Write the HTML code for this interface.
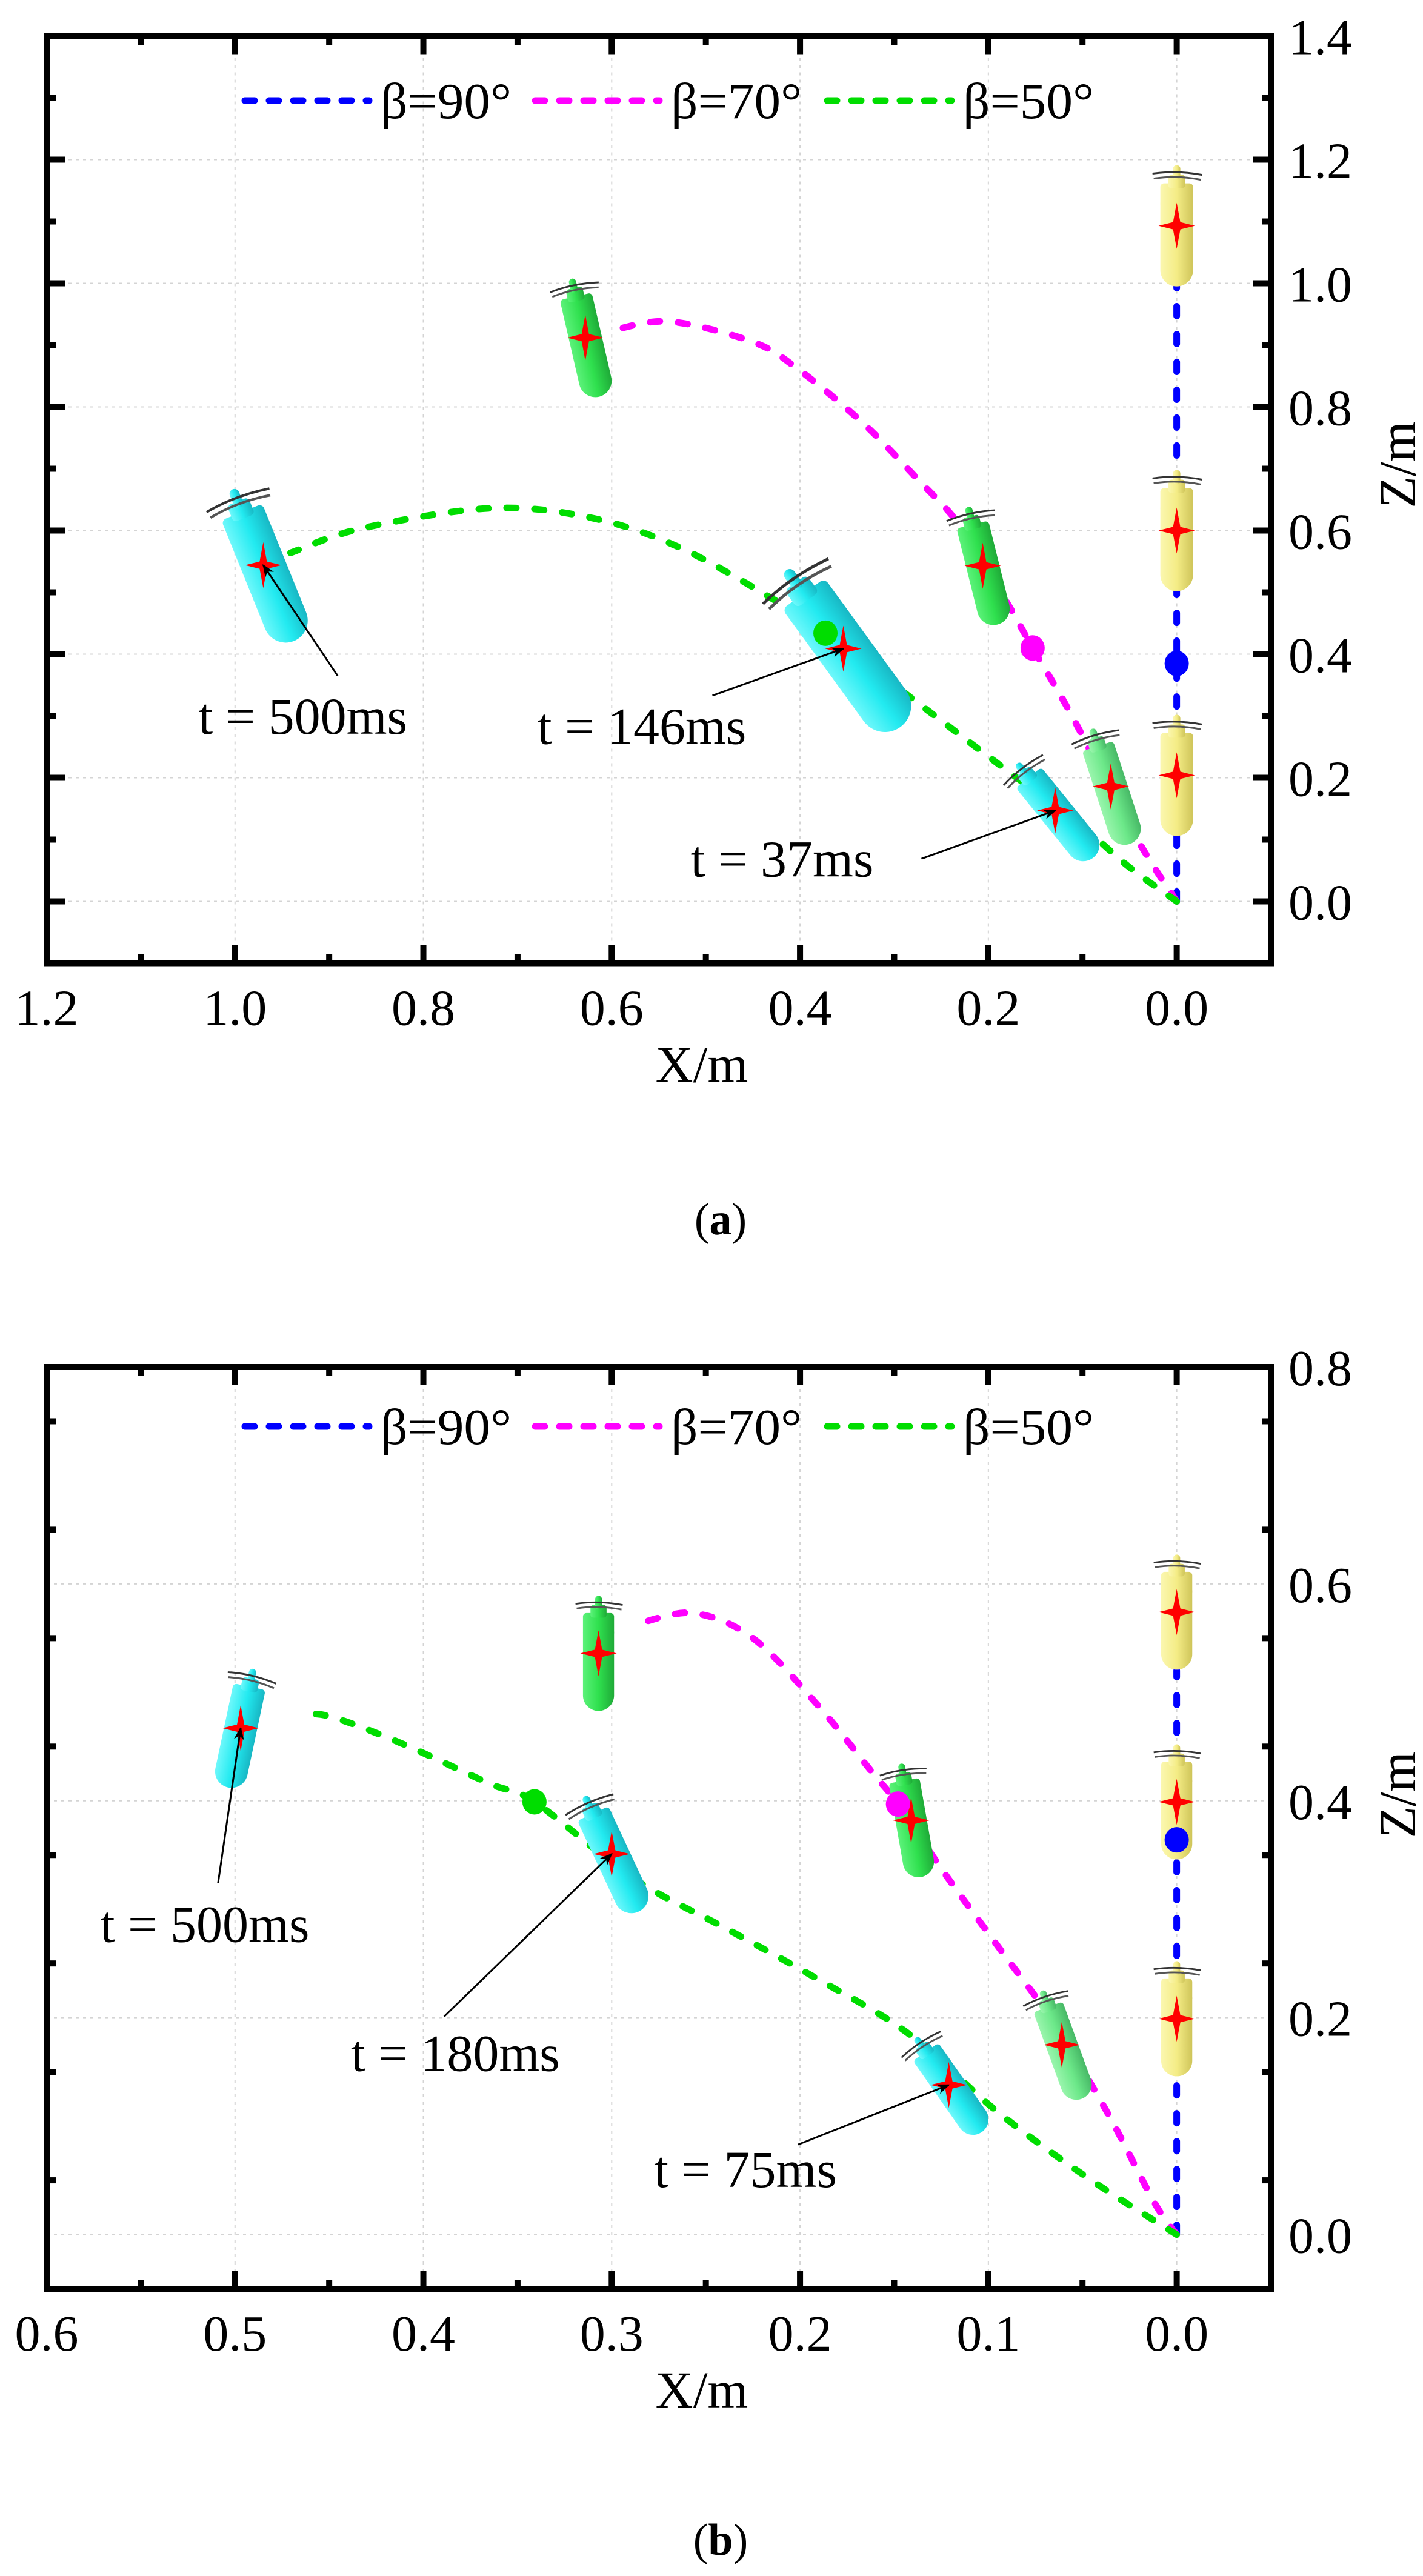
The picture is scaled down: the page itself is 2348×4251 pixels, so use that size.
<!DOCTYPE html>
<html><head><meta charset="utf-8"><style>
html,body{margin:0;padding:0;background:#fff;}
svg{display:block;}
svg text{font-family:"Liberation Serif","DejaVu Serif",serif;fill:#000;}
</style></head>
<body>
<svg id="fig" width="2348" height="4251" viewBox="0 0 2348 4251" xmlns="http://www.w3.org/2000/svg" font-family="Liberation Serif, DejaVu Serif, serif">
<defs>
<linearGradient id="gy" x1="0" x2="1" y1="0" y2="0"><stop offset="0" stop-color="#fbf7b0"/><stop offset="0.5" stop-color="#f4ec86"/><stop offset="1" stop-color="#cfc55a"/></linearGradient>
<linearGradient id="gg" x1="0" x2="1" y1="0" y2="0"><stop offset="0" stop-color="#5cf27a"/><stop offset="0.5" stop-color="#2fe04e"/><stop offset="1" stop-color="#1faa38"/></linearGradient>
<linearGradient id="gl" x1="0" x2="1" y1="0" y2="0"><stop offset="0" stop-color="#9af5ad"/><stop offset="0.5" stop-color="#6ce889"/><stop offset="1" stop-color="#47b866"/></linearGradient>
<linearGradient id="gc" x1="0" x2="1" y1="0" y2="0"><stop offset="0" stop-color="#6ff8fb"/><stop offset="0.5" stop-color="#22eaf0"/><stop offset="1" stop-color="#18b7c4"/></linearGradient>
<marker id="arr" viewBox="0 0 10 10" refX="9" refY="5" markerWidth="7" markerHeight="7" orient="auto"><path d="M0,1 L10,5 L0,9 L3,5 Z" fill="#000"/></marker>
</defs>
</svg>
<script>
// ---------- Panel (a) data ----------
const aXTicks = [1.2, 1.0, 0.8, 0.6, 0.4, 0.2, 0.0];
const aXLabels = ["1.2","1.0","0.8","0.6","0.4","0.2","0.0"];
const aYTicks = [0.0, 0.2, 0.4, 0.6, 0.8, 1.0, 1.2, 1.4];
const aYLabels = ["0.0","0.2","0.4","0.6","0.8","1.0","1.2","1.4"];
const aBlueX = [0, 0];
const aBlueZ = [0, 1.0];
const aMagX = [0, 0.03, 0.06, 0.113, 0.153, 0.18, 0.228, 0.277, 0.334, 0.402, 0.45, 0.537, 0.594];
const aMagZ = [0, 0.07, 0.15, 0.305, 0.41, 0.483, 0.604, 0.686, 0.775, 0.861, 0.905, 0.938, 0.926];
const aGrnX = [0, 0.05, 0.1, 0.19, 0.267, 0.373, 0.422, 0.527, 0.623, 0.729, 0.864, 0.941];
const aGrnZ = [0, 0.055, 0.12, 0.223, 0.312, 0.434, 0.483, 0.572, 0.621, 0.636, 0.604, 0.564];
const aDotX = [0, 0.153, 0.373];
const aDotZ = [0.385, 0.41, 0.434];
const aVehX = [0, 0, 0, 0.628, 0.206, 0.97, 0.354, 0.129, 0.07];
const aVehZ = [1.093, 0.6, 0.204, 0.912, 0.543, 0.544, 0.409, 0.147, 0.186];
const aVehTilt = [0, 0, 0, -13, -14, -22, -36, -39, -18];
const aVehScale = [1.0, 1.0, 1.0, 1.0, 1.0, 1.35, 1.6, 1.0, 1.0];
const aVehCol = ["y","y","y","g","g","c","c","c","l"];
const aNoteText = ["t = 500ms", "t = 146ms", "t = 37ms"];
const aNoteTX = [0.928, 0.568, 0.419];
const aNoteTZ = [0.271, 0.255, 0.04];
const aNoteFromX = [0.891, 0.493, 0.271];
const aNoteFromZ = [0.365, 0.333, 0.069];
const aNoteToX = [0.97, 0.354, 0.129];
const aNoteToZ = [0.544, 0.409, 0.147];

// ---------- Panel (b) data ----------
const bXTicks = [0.6, 0.5, 0.4, 0.3, 0.2, 0.1, 0.0];
const bXLabels = ["0.6","0.5","0.4","0.3","0.2","0.1","0.0"];
const bYTicks = [0.0, 0.2, 0.4, 0.6, 0.8];
const bYLabels = ["0.0","0.2","0.4","0.6","0.8"];
const bBlueX = [0, 0];
const bBlueZ = [0, 0.52];
const bMagX = [0, 0.012, 0.037, 0.066, 0.095, 0.124, 0.148, 0.162, 0.191, 0.225, 0.256, 0.283];
const bMagZ = [0, 0.03, 0.113, 0.197, 0.266, 0.335, 0.397, 0.427, 0.489, 0.55, 0.573, 0.565];
const bGrnX = [0, 0.047, 0.095, 0.143, 0.191, 0.239, 0.288, 0.341, 0.365, 0.413, 0.45, 0.466];
const bGrnZ = [0, 0.052, 0.113, 0.186, 0.236, 0.282, 0.328, 0.399, 0.416, 0.454, 0.478, 0.479];
const bDotX = [0, 0.148, 0.341];
const bDotZ = [0.364, 0.397, 0.399];
const bVehX = [0, 0, 0, 0.307, 0.497, 0.3, 0.141, 0.061, 0.121];
const bVehZ = [0.574, 0.399, 0.199, 0.536, 0.467, 0.351, 0.382, 0.175, 0.138];
const bVehTilt = [0, 0, 0, 0, 12, -25, -10, -20, -35];
const bVehScale = [0.95, 0.95, 0.95, 0.95, 1.0, 1.05, 0.95, 0.95, 0.95];
const bVehCol = ["y","y","y","g","c","c","g","l","c"];
const bNoteText = ["t = 500ms", "t = 180ms", "t = 75ms"];
const bNoteTX = [0.516, 0.383, 0.229];
const bNoteTZ = [0.270, 0.151, 0.044];
const bNoteFromX = [0.509, 0.389, 0.201];
const bNoteFromZ = [0.324, 0.201, 0.083];
const bNoteToX = [0.497, 0.3, 0.121];
const bNoteToZ = [0.467, 0.351, 0.138];

const legendNames = ["β=90°", "β=70°", "β=50°"];
const seriesColors = ["#0000ff", "#ff00ff", "#00dd00"];

const NS = "http://www.w3.org/2000/svg";
const FONT = '"Liberation Serif", "DejaVu Serif", serif';
const svg = document.getElementById('fig');
function mk(tag, attrs, parent) {
  const e = document.createElementNS(NS, tag);
  for (const k in attrs) e.setAttribute(k, attrs[k]);
  if (tag === 'text') e.style.fontFamily = FONT;
  (parent || svg).appendChild(e);
  return e;
}

function panel(cfg) {
  const g = mk('g', {});
  
  
  const L = 77, R = 2097, T = cfg.top, B = cfg.bottom;
  const sx = v => L + (cfg.xMax - v) / (cfg.xMax - cfg.xMin) * (R - L);
  const sy = v => T + (cfg.yMax - v) / (cfg.yMax - cfg.yMin) * (B - T);

  const grid = mk('g', {stroke: '#d4d4d4', 'stroke-width': 2, 'stroke-dasharray': '5 7', fill: 'none'}, g);
  
  
  cfg.xTicks.forEach(v => { mk('line', {x1: sx(v), x2: sx(v), y1: T, y2: B}, grid); });
  cfg.yTicks.forEach(v => { mk('line', {x1: L, x2: R, y1: sy(v), y2: sy(v)}, grid); });

  const series = [[cfg.blueX, cfg.blueZ], [cfg.magX, cfg.magZ], [cfg.grnX, cfg.grnZ]];
  const snames = ['beta-90-line', 'beta-70-line', 'beta-50-line'];
  series.forEach((s, i) => {
    const pts = s[0].map((x, j) => [sx(x), sy(s[1][j])]);
    let d = 'M' + pts[0][0] + ',' + pts[0][1];
    for (let j = 1; j < pts.length; j++) {
      const p0 = pts[j - 2] || pts[j - 1], p1 = pts[j - 1], p2 = pts[j], p3 = pts[j + 1] || pts[j];
      const c1x = p1[0] + (p2[0] - p0[0]) / 6, c1y = p1[1] + (p2[1] - p0[1]) / 6;
      const c2x = p2[0] - (p3[0] - p1[0]) / 6, c2y = p2[1] - (p3[1] - p1[1]) / 6;
      d += ' C' + c1x + ',' + c1y + ' ' + c2x + ',' + c2y + ' ' + p2[0] + ',' + p2[1];
    }
    const p = mk('path', {d: d, fill: 'none', stroke: seriesColors[i], 'stroke-width': 11, 'stroke-dasharray': '16 30', 'stroke-linecap': 'round'}, g);
    
    
  });

  const grads = {y: 'url(#gy)', g: 'url(#gg)', l: 'url(#gl)', c: 'url(#gc)'};
  cfg.vehX.forEach((vx, i) => {
    const s = cfg.vehScale[i];
    const cx = sx(vx), cy = sy(cfg.vehZ[i]);
    const vg = mk('g', {transform: 'translate(' + cx + ',' + cy + ') rotate(' + cfg.vehTilt[i] + ') scale(' + s + ')'}, g);
    
    
    const f = grads[cfg.vehCol[i]];
    mk('rect', {x: -27, y: -62, width: 54, height: 162, rx: 27, fill: f}, vg);
    mk('rect', {x: -27, y: -70, width: 54, height: 40, rx: 6, fill: f}, vg);
    mk('rect', {x: -14, y: -84, width: 28, height: 22, rx: 5, fill: f}, vg);
    mk('rect', {x: -6, y: -100, width: 12, height: 24, rx: 6, fill: f}, vg);
    mk('path', {d: 'M-40,-86 Q0,-92 42,-84', stroke: '#333', 'stroke-width': 3, fill: 'none'}, vg);
    mk('path', {d: 'M-38,-78 Q0,-84 40,-76', stroke: '#555', 'stroke-width': 3, fill: 'none'}, vg);
    const st = mk('path', {d: 'M' + cx + ',' + (cy - 38) + ' L' + (cx + 6) + ',' + (cy - 6) + ' L' + (cx + 30) + ',' + cy + ' L' + (cx + 6) + ',' + (cy + 6) + ' L' + cx + ',' + (cy + 38) + ' L' + (cx - 6) + ',' + (cy + 6) + ' L' + (cx - 30) + ',' + cy + ' L' + (cx - 6) + ',' + (cy - 6) + ' Z', fill: '#ff0000'}, g);
    
    
  });

  cfg.dotX.forEach((x, i) => {
    const c = mk('ellipse', {cx: sx(x), cy: sy(cfg.dotZ[i]), rx: 20, ry: 21, fill: seriesColors[i]}, g);
    
    
  });

  cfg.noteText.forEach((t, i) => {
    const ln = mk('line', {x1: sx(cfg.noteFromX[i]), y1: sy(cfg.noteFromZ[i]), x2: sx(cfg.noteToX[i]), y2: sy(cfg.noteToZ[i]), stroke: '#000', 'stroke-width': 3, 'marker-end': 'url(#arr)'}, g);
    
    
    const tx = mk('text', {x: sx(cfg.noteTX[i]), y: sy(cfg.noteTZ[i]), 'font-size': 86, 'text-anchor': 'middle'}, g);
    tx.textContent = t;
    
    
  });

  const lg = mk('g', {}, g);
  
  
  const lx = [404, 883, 1365];
  legendNames.forEach((n, i) => {
    const ly = cfg.legendY;
    mk('line', {x1: lx[i], x2: lx[i] + 205, y1: ly, y2: ly, stroke: seriesColors[i], 'stroke-width': 11, 'stroke-dasharray': '16 24', 'stroke-linecap': 'round'}, lg);
    const t = mk('text', {x: lx[i] + 224, y: ly + 29, 'font-size': 84, textLength: 216, lengthAdjust: 'spacingAndGlyphs'}, lg);
    t.textContent = n;
    
    
  });

  const tk = mk('g', {stroke: '#000', 'stroke-width': 10}, g);
  
  
  const xStep = cfg.xTicks[0] - cfg.xTicks[1];
  for (let v = cfg.xMax; v >= cfg.xMin - 1e-9; v -= xStep / 2) {
    const major = Math.abs(Math.round(v / xStep) * xStep - v) < 1e-6;
    const len = major ? 30 : 15;
    mk('line', {x1: sx(v), x2: sx(v), y1: B, y2: B - len}, tk);
    mk('line', {x1: sx(v), x2: sx(v), y1: T, y2: T + len}, tk);
  }
  const yStep = cfg.yTicks[1] - cfg.yTicks[0];
  for (let v = cfg.yMin; v <= cfg.yMax + 1e-9; v += yStep / 2) {
    const major = Math.abs(Math.round(v / yStep) * yStep - v) < 1e-6;
    const len = major ? 30 : 15;
    mk('line', {x1: L, x2: L + len, y1: sy(v), y2: sy(v)}, tk);
    mk('line', {x1: R, x2: R - len, y1: sy(v), y2: sy(v)}, tk);
  }
  const fr = mk('rect', {x: L, y: T, width: R - L, height: B - T, fill: 'none', stroke: '#000', 'stroke-width': 10}, g);
  
  

  cfg.xTicks.forEach((v, i) => {
    const t = mk('text', {x: sx(v), y: B + 102, 'font-size': 84, 'text-anchor': 'middle'}, g);
    t.textContent = cfg.xLabels[i];
    
    
  });
  cfg.yTicks.forEach((v, i) => {
    const t = mk('text', {x: 2126, y: sy(v) + 30, 'font-size': 84}, g);
    t.textContent = cfg.yLabels[i];
    
    
  });
  const xt = mk('text', {x: 1158, y: B + 196, 'font-size': 86, 'text-anchor': 'middle'}, g);
  xt.textContent = 'X/m';
  
  
  const zy = cfg.zTitleY;
  const yt = mk('text', {x: 2335, y: zy, 'font-size': 86, 'text-anchor': 'middle', transform: 'rotate(-90 2335 ' + zy + ')'}, g);
  yt.textContent = 'Z/m';
  
  
  const cap = mk('text', {x: 1189, y: cfg.capY, 'font-size': 74, 'text-anchor': 'middle'}, g);
  cap.innerHTML = '(<tspan font-weight="bold">' + cfg.cap + '</tspan>)';
  
  
}

panel({name: 'panel-a', top: 59.5, bottom: 1589.5, xMax: 1.2, xMin: -0.1, yMax: 1.4, yMin: -0.1,
  xTicks: aXTicks, xLabels: aXLabels, yTicks: aYTicks, yLabels: aYLabels,
  blueX: aBlueX, blueZ: aBlueZ, magX: aMagX, magZ: aMagZ, grnX: aGrnX, grnZ: aGrnZ,
  dotX: aDotX, dotZ: aDotZ, vehX: aVehX, vehZ: aVehZ, vehTilt: aVehTilt, vehScale: aVehScale, vehCol: aVehCol,
  noteText: aNoteText, noteTX: aNoteTX, noteTZ: aNoteTZ, noteFromX: aNoteFromX, noteFromZ: aNoteFromZ, noteToX: aNoteToX, noteToZ: aNoteToZ,
  legendY: 166, zTitleY: 767, capY: 2037, cap: 'a'});
panel({name: 'panel-b', top: 2256, bottom: 3777, xMax: 0.6, xMin: -0.05, yMax: 0.8, yMin: -0.05,
  xTicks: bXTicks, xLabels: bXLabels, yTicks: bYTicks, yLabels: bYLabels,
  blueX: bBlueX, blueZ: bBlueZ, magX: bMagX, magZ: bMagZ, grnX: bGrnX, grnZ: bGrnZ,
  dotX: bDotX, dotZ: bDotZ, vehX: bVehX, vehZ: bVehZ, vehTilt: bVehTilt, vehScale: bVehScale, vehCol: bVehCol,
  noteText: bNoteText, noteTX: bNoteTX, noteTZ: bNoteTZ, noteFromX: bNoteFromX, noteFromZ: bNoteFromZ, noteToX: bNoteToX, noteToZ: bNoteToZ,
  legendY: 2354, zTitleY: 2962, capY: 4216, cap: 'b'});
</script>
</body></html>
